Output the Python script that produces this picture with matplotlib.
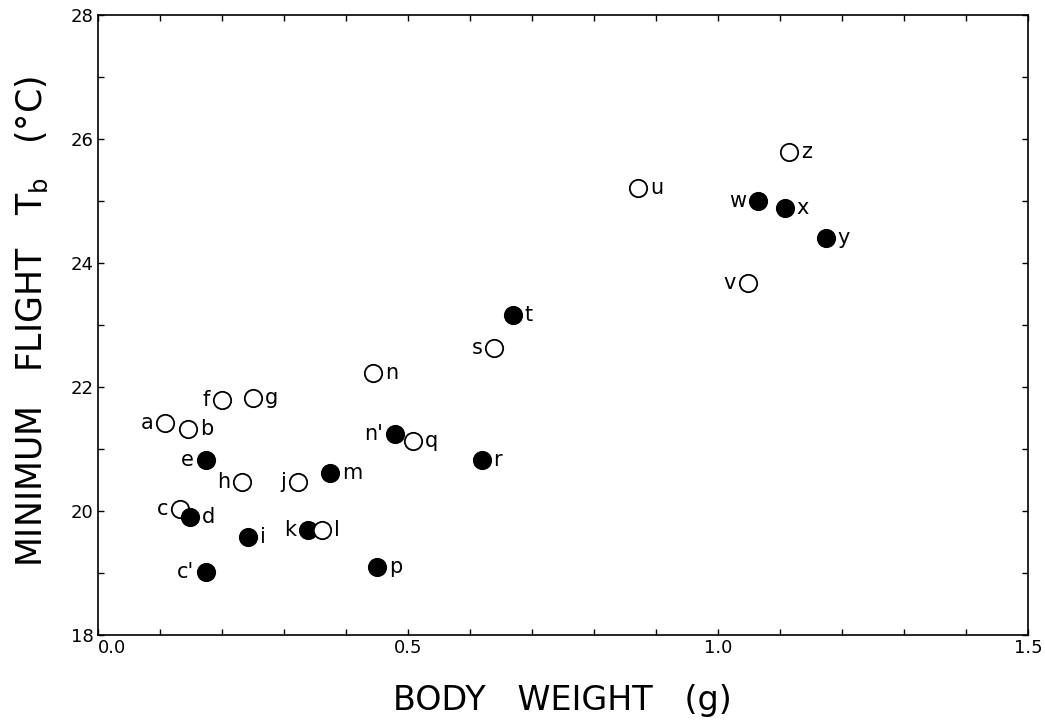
import matplotlib
matplotlib.use("Agg")
import matplotlib.pyplot as plt
from matplotlib.ticker import MultipleLocator

plt.rcParams['font.family'] = ['DejaVu Sans']

# Data
labels = ["a", "b", "c", "c'", "d", "e", "f", "g", "h", "i", "j", "k", "l", "m",
          "n", "n'", "p", "q", "r", "s", "t", "u", "v", "w", "x", "y", "z"]
weight = [0.108, 0.145, 0.132, 0.174, 0.148, 0.174, 0.200, 0.250, 0.232, 0.242,
          0.323, 0.339, 0.361, 0.374, 0.444, 0.479, 0.450, 0.508, 0.619, 0.639,
          0.669, 0.871, 1.048, 1.065, 1.108, 1.174, 1.115]
tb = [21.42, 21.32, 20.03, 19.02, 19.90, 20.82, 21.79, 21.82, 20.47, 19.58,
      20.47, 19.69, 19.69, 20.61, 22.23, 21.24, 19.10, 21.13, 20.82, 22.63,
      23.16, 25.21, 23.68, 25.00, 24.89, 24.40, 25.79]
filled = [False, False, False, True, True, True, False, False, False, True,
          False, True, False, True, False, True, True, False, True, False,
          True, False, False, True, True, True, False]
side = ["l", "r", "l", "l", "r", "l", "l", "r", "l", "r", "l", "l", "r", "r",
        "r", "l", "r", "r", "r", "l", "r", "r", "l", "l", "r", "r", "r"]

xticklabels = ["0.0", "0.5", "1.0", "1.5"]
yticklabels = ["18", "20", "22", "24", "26", "28"]

W, H = 1045, 720
fig = plt.figure(figsize=(W / 100, H / 100), dpi=100)
ax = fig.add_axes([98 / W, 1 - 635 / H, (1028 - 98) / W, (635 - 15) / H])

for i, (lab, xv, yv, f, s) in enumerate(zip(labels, weight, tb, filled, side)):
    ax.plot([xv], [yv], marker='o', markersize=12.5, linestyle='none',
            markerfacecolor='black' if f else 'white', markeredgecolor='black',
            markeredgewidth=1.3, zorder=3 + i * 0.01)
    if s == "r":
        ax.annotate(lab, (xv, yv), xytext=(8.5, 0), textcoords='offset points',
                    ha='left', va='center', fontsize=15, zorder=5)
    else:
        ax.annotate(lab, (xv, yv), xytext=(-8.5, 0), textcoords='offset points',
                    ha='right', va='center', fontsize=15, zorder=5)

ax.set_xlim(0.0, 1.5)
ax.set_ylim(18, 28)
ax.set_xticks([0.0, 0.5, 1.0, 1.5])
ax.set_xticklabels(xticklabels)
ax.set_yticks([18, 20, 22, 24, 26, 28])
ax.set_yticklabels(yticklabels)
ax.xaxis.set_minor_locator(MultipleLocator(0.1))
ax.yaxis.set_minor_locator(MultipleLocator(1))
ax.tick_params(which='both', direction='in', top=True, right=True,
               length=4, width=1.0, labelsize=13, pad=3)
ax.get_xticklabels()[0].set_horizontalalignment('left')
for sp in ax.spines.values():
    sp.set_linewidth(1.2)

fig.text(562 / W, 1 - 710 / H, "BODY   WEIGHT   (g)", fontsize=24,
         ha='center', va='baseline')
fig.text(42 / W, 1 - 322 / H, r"MINIMUM   FLIGHT   T$_\mathregular{b}$   (°C)",
         fontsize=25, rotation=90, rotation_mode='anchor',
         ha='center', va='baseline')

fig.savefig("out.png", dpi=100)
